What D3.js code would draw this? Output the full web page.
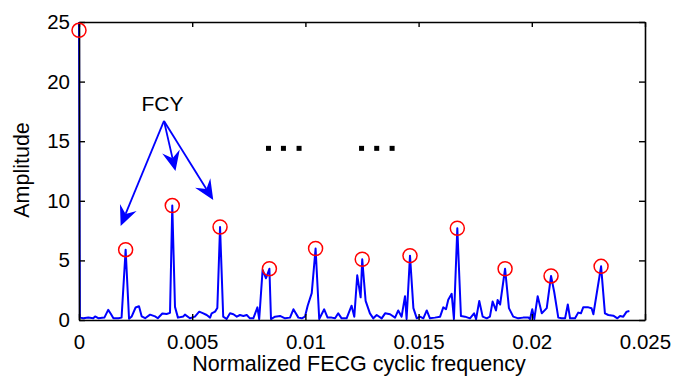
<!DOCTYPE html>
<html>
<head>
<meta charset="utf-8">
<script src="https://cdn.jsdelivr.net/npm/d3@7"></script>
<style>
  body { margin: 0; background: #fff; }
  text { font-family: "Liberation Sans", Arial, sans-serif; fill: #000; }
</style>
</head>
<body>
<svg id="chart" width="674" height="376"></svg>
<script>
// spectrum (normalized cyclic frequency, amplitude)
var freq = [0, 0.00004, 0.00019, 0.00041, 0.00063, 0.00071, 0.00085, 0.00112, 0.00129, 0.00141,
  0.00152, 0.00174, 0.00188, 0.00206, 0.00221, 0.00233, 0.0025, 0.00265, 0.00277, 0.00292,
  0.00314, 0.00336, 0.00348, 0.00368, 0.00387, 0.00402, 0.00412, 0.00424, 0.00437, 0.00461,
  0.00468, 0.0049, 0.00512, 0.00531, 0.00549, 0.00564, 0.00579, 0.00586, 0.00601, 0.00611,
  0.00623, 0.00637, 0.00652, 0.00667, 0.00682, 0.00697, 0.00711, 0.00726, 0.00741, 0.00755,
  0.0077, 0.00788, 0.00796, 0.00811, 0.00826, 0.00841, 0.00848, 0.00866, 0.00888, 0.0091,
  0.00932, 0.00947, 0.00969, 0.00984, 0.00998, 0.0101, 0.01028, 0.01045, 0.01061, 0.01083,
  0.01098, 0.01116, 0.01131, 0.01145, 0.0116, 0.01182, 0.01204, 0.01216, 0.01229, 0.01244,
  0.01251, 0.01266, 0.01285, 0.013, 0.01315, 0.01337, 0.01352, 0.01374, 0.01396, 0.0141,
  0.01425, 0.0144, 0.01447, 0.01462, 0.01477, 0.01492, 0.01506, 0.01521, 0.01536, 0.0155,
  0.01572, 0.01595, 0.01609, 0.01621, 0.01631, 0.01646, 0.01656, 0.01671, 0.01687, 0.01705,
  0.01727, 0.01745, 0.01754, 0.01768, 0.01783, 0.01801, 0.01815, 0.01827, 0.01842, 0.01849,
  0.0186, 0.01882, 0.01899, 0.01918, 0.0194, 0.01962, 0.01985, 0.01992, 0.02002, 0.02011,
  0.02026, 0.02044, 0.02066, 0.02085, 0.02099, 0.02117, 0.02132, 0.02147, 0.02159, 0.02169,
  0.02191, 0.02205, 0.02217, 0.02227, 0.0225, 0.02264, 0.02272, 0.02306, 0.02323, 0.02338,
  0.0236, 0.02378, 0.0239, 0.02404, 0.02419, 0.02431];
var amp = [25, 0.2, 0.15, 0.2, 0.15, 0.3, 0.15, 0.2, 0.85, 0.5,
  0.15, 0.15, 0.2, 5.9, 0.1, 0.3, 1.05, 1.15, 0.3, 0.15,
  0.45, 0.3, 0.15, 0.55, 0.5, 0.6, 9.6, 1.1, 0.2, 0.3,
  0.45, 0.15, 0.28, 0.7, 0.56, 0.42, 0.2, 0.56, 0.7, 1.0,
  7.8, 0.28, 0.08, 0.56, 0.48, 0.28, 0.42, 0.34, 0.42, 0.14,
  0.14, 1.06, 0.08, 4.2, 3.5, 4.3, 0.08, 0.28, 0.34, 0.14,
  0.2, 0.9, 0.2, 0.14, 0.28, 1.2, 2.25, 6.0, 0.08, 0.9,
  0.2, 0.2, 0.14, 0.56, 0.14, 0.14, 1.2, 0.28, 3.75, 1.9,
  5.1, 1.6, 0.56, 0.14, 0.42, 0.14, 0.56, 0.48, 0.2, 0.8,
  0.28, 2.0, 0.08, 5.4, 1.0, 0.14, 0.28, 0.14, 0.8, 0.14,
  0.2, 0.28, 1.06, 0.9, 1.7, 2.2, 0.08, 7.7, 0.34, 0.28,
  0.14, 0.56, 0.08, 1.6, 0.28, 0.14, 0.28, 1.55, 0.8, 1.68,
  1.3, 4.3, 1.0, 0.28, 0.14, 0.2, 0.2, 0.08, 0.9, 0.08,
  2.0, 0.56, 1.0, 3.7, 2.35, 0.2, 0.14, 0.14, 1.3, 0.14,
  0.14, 0.62, 0.56, 1.06, 1.06, 0.98, 0.48, 4.5, 0.56, 0.42,
  0.36, 0.14, 0.34, 0.28, 0.7, 0.75];

// detected peaks (red circles)
var peakFreq = [0, 0.00206, 0.00412, 0.00623, 0.00841, 0.01045, 0.01251, 0.01462, 0.01671, 0.01882, 0.02085, 0.02306];
var peakAmp = [24.3, 5.9, 9.6, 7.8, 4.3, 6.0, 5.1, 5.4, 7.7, 4.3, 3.7, 4.5];

var xTicks = [0, 0.005, 0.01, 0.015, 0.02, 0.025];
var yTicks = [0, 5, 10, 15, 20, 25];

// annotation: FCY label and arrow tips, in data units
var fcyLabel = [0.00369, 17.5];
var arrowFrom = [0.003754, 16.7];
var arrowTips = [[0.00184, 7.89], [0.00426, 12.5], [0.00593, 10.07]];
var dotsFreq = [0.00837, 0.00903, 0.00972, 0.01248, 0.01315, 0.01383];
var dotsAmp = 14.4;

var margin = {top: 22, right: 29, bottom: 56, left: 79};
var width = 674 - margin.left - margin.right;
var height = 376 - margin.top - margin.bottom;

var svg = d3.select('#chart');
var g = svg.append('g').attr('transform', 'translate(' + margin.left + ',' + margin.top + ')');

var x = d3.scaleLinear().domain([0, 0.025]).range([0, width]);
var y = d3.scaleLinear().domain([0, 25]).range([height, 0]);

g.append('clipPath').attr('id', 'clip')
  .append('rect').attr('x', -1).attr('y', 0).attr('width', width + 2).attr('height', height);

var pts = freq.map(function(f, i) { return [f, amp[i]]; });
var line = d3.line().x(d => x(d[0])).y(d => y(d[1]));

g.append('path')
  .datum(pts)
  .attr('clip-path', 'url(#clip)')
  .attr('d', line)
  .attr('fill', 'none')
  .attr('stroke', '#0000ff')
  .attr('stroke-width', 2)
  .attr('stroke-linejoin', 'round');

// axes box, ticks inside on all four sides
var tickLen = 6;
var xAxis = g.append('g').attr('transform', 'translate(0,' + height + ')')
  .call(d3.axisBottom(x).tickValues(xTicks).tickSizeInner(-tickLen).tickSizeOuter(0)
    .tickPadding(14).tickFormat(d => d === 0 ? '0' : String(+d.toFixed(3))));
var yAxis = g.append('g')
  .call(d3.axisLeft(y).tickValues(yTicks).tickSizeInner(-tickLen).tickSizeOuter(0).tickPadding(9));
var xTop = g.append('g')
  .call(d3.axisTop(x).tickValues(xTicks).tickSizeInner(-tickLen + 1).tickSizeOuter(0).tickFormat(''));
var yRight = g.append('g').attr('transform', 'translate(' + width + ',0)')
  .call(d3.axisRight(y).tickValues(yTicks).tickSizeInner(-tickLen).tickSizeOuter(0).tickFormat(''));

[xAxis, yAxis, xTop, yRight].forEach(function(a) {
  a.select('.domain').attr('stroke', '#000').attr('stroke-width', 1.6);
  a.selectAll('.tick line').attr('stroke', '#000').attr('stroke-width', 1.4);
  a.selectAll('.tick text').attr('fill', '#000').style('font-size', '20.5px')
    .style('font-family', '"Liberation Sans", Arial, sans-serif');
});

// red peak markers
g.selectAll('circle.peak')
  .data(peakFreq)
  .enter().append('circle')
  .attr('class', 'peak')
  .attr('cx', d => x(d))
  .attr('cy', (d, i) => y(peakAmp[i]))
  .attr('r', 7)
  .attr('fill', 'none')
  .attr('stroke', '#ff0000')
  .attr('stroke-width', 1.5);

// FCY annotation arrows
g.append('text')
  .attr('x', x(fcyLabel[0]))
  .attr('y', y(fcyLabel[1]))
  .attr('text-anchor', 'middle')
  .style('font-size', '21px')
  .text('FCY');

var ox = x(arrowFrom[0]), oy = y(arrowFrom[1]);
arrowTips.forEach(function(t) {
  var tx = x(t[0]), ty = y(t[1]);
  var dx = tx - ox, dy = ty - oy;
  var len = Math.sqrt(dx * dx + dy * dy);
  var ux = dx / len, uy = dy / len;
  var px = -uy, py = ux;
  var hl = 20, hw = 9, back = 13;
  g.append('line')
    .attr('x1', ox).attr('y1', oy)
    .attr('x2', tx - ux * back).attr('y2', ty - uy * back)
    .attr('stroke', '#0000ff').attr('stroke-width', 1.8);
  var p = [
    [tx, ty],
    [tx - ux * hl + px * hw, ty - uy * hl + py * hw],
    [tx - ux * back, ty - uy * back],
    [tx - ux * hl - px * hw, ty - uy * hl - py * hw]
  ];
  g.append('path')
    .attr('d', 'M' + p.map(q => q.join(',')).join('L') + 'Z')
    .attr('fill', '#0000ff');
});

// ellipsis squares
g.selectAll('rect.dot')
  .data(dotsFreq)
  .enter().append('rect')
  .attr('class', 'dot')
  .attr('x', d => x(d) - 2.5)
  .attr('y', y(dotsAmp) - 2.5)
  .attr('width', 5)
  .attr('height', 5)
  .attr('fill', '#000');

// axis titles
svg.append('text')
  .attr('x', margin.left + width / 2 - 3)
  .attr('y', 370.5)
  .attr('text-anchor', 'middle')
  .style('font-size', '21.5px')
  .text('Normalized FECG cyclic frequency');

svg.append('text')
  .attr('transform', 'translate(29,' + (margin.top + height / 2 - 1) + ') rotate(-90)')
  .attr('text-anchor', 'middle')
  .style('font-size', '21.5px')
  .text('Amplitude');
</script>
</body>
</html>
